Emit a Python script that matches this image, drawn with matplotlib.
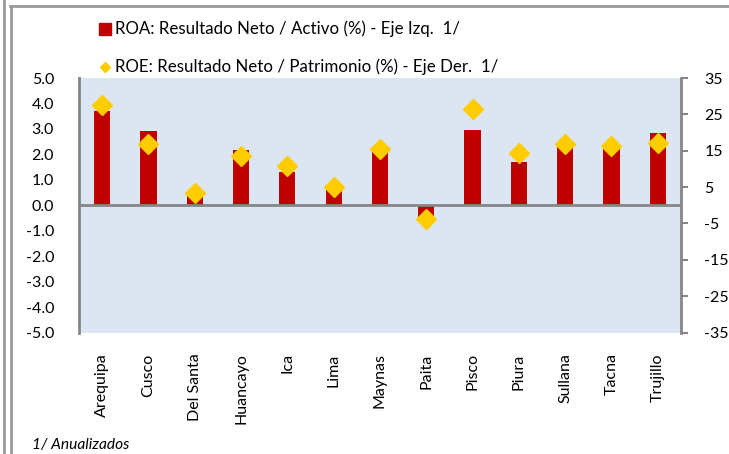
import numpy as np
import matplotlib.pyplot as plt
from matplotlib.lines import Line2D

plt.rcParams['font.family'] = ['Lato', 'DejaVu Sans']

cajas = ["Arequipa", "Cusco", "Del Santa", "Huancayo", "Ica", "Lima", "Maynas",
         "Paita", "Pisco", "Piura", "Sullana", "Tacna", "Trujillo"]
roa = [3.72, 2.93, 0.41, 2.18, 1.32, 0.73, 2.11, -0.48, 2.97, 1.71, 2.34, 2.22, 2.85]
roe = [27.5, 16.9, 3.5, 13.7, 10.8, 4.9, 15.6, -3.7, 26.4, 14.5, 16.9, 16.2, 17.1]

left_ticks = [5, 4, 3, 2, 1, 0, -1, -2, -3, -4, -5]
right_ticks = [35, 25, 15, 5, -5, -15, -25, -35]

gris = "#868686"
rojo = "#C00000"
oro = "#FFCC00"

fig = plt.figure(figsize=(7.29, 4.54), dpi=100)
ax = fig.add_axes([0.1084, 0.2676, 0.8256, 0.5604])
ax.set_facecolor("#DCE6F2")

x = np.arange(len(cajas))
ax.bar(x, roa, width=0.35, color=rojo, zorder=2)
ax.axhline(0, color=gris, lw=2, zorder=3)
ax.set_xlim(-0.5, len(cajas) - 0.5)
ax.set_ylim(-5, 5)
ax.set_yticks(left_ticks)
ax.set_yticklabels([f"{v:.1f}" for v in left_ticks], fontsize=11.5)
ax.tick_params(axis="y", length=0, pad=18)
ax.set_xticks(x)
ax.set_xticklabels(cajas, rotation=90, fontsize=11.5)
ax.tick_params(axis="x", length=0, pad=15)
for s in ["top", "bottom", "right"]:
    ax.spines[s].set_visible(False)
ax.spines["left"].set_color(gris)
ax.spines["left"].set_linewidth(2)

ax2 = ax.twinx()
ax2.plot(x, roe, linestyle="none", marker="D", markersize=10, color=oro, zorder=4)
ax2.set_ylim(-35, 35)
ax2.set_yticks(right_ticks)
ax2.set_yticklabels([str(v) for v in right_ticks], fontsize=11.5)
ax2.tick_params(axis="y", length=5, width=1.5, color=gris, pad=12)
for s in ["top", "bottom", "left"]:
    ax2.spines[s].set_visible(False)
ax2.spines["right"].set_color(gris)
ax2.spines["right"].set_linewidth(2)

# leyenda
fig.add_artist(Line2D([105 / 729], [1 - 29 / 454], marker="s", markersize=8,
                      color=rojo, linestyle="none", transform=fig.transFigure))
fig.text(115 / 729, 1 - 29 / 454, "ROA: Resultado Neto / Activo (%) - Eje Izq.  1/",
         fontsize=12.2, va="center")
fig.add_artist(Line2D([105 / 729], [1 - 67 / 454], marker="D", markersize=5,
                      color=oro, linestyle="none", transform=fig.transFigure))
fig.text(115 / 729, 1 - 67 / 454, "ROE: Resultado Neto / Patrimonio (%) - Eje Der.  1/",
         fontsize=12.2, va="center")

fig.text(32 / 729, 1 - 445 / 454, "1/ Anualizados", fontsize=11.2, style="italic", va="center")

# marco
fig.add_artist(Line2D([4 / 729, 4 / 729], [0, 1], color="#9A9A9A", lw=2,
                      transform=fig.transFigure))
fig.add_artist(Line2D([11 / 729, 11 / 729], [0, 1 - 5.5 / 454], color="#9A9A9A", lw=2,
                      transform=fig.transFigure))
fig.add_artist(Line2D([10 / 729, 1], [1 - 5.5 / 454, 1 - 5.5 / 454], color="#9A9A9A", lw=2,
                      transform=fig.transFigure))

fig.savefig("out.png", dpi=100)
